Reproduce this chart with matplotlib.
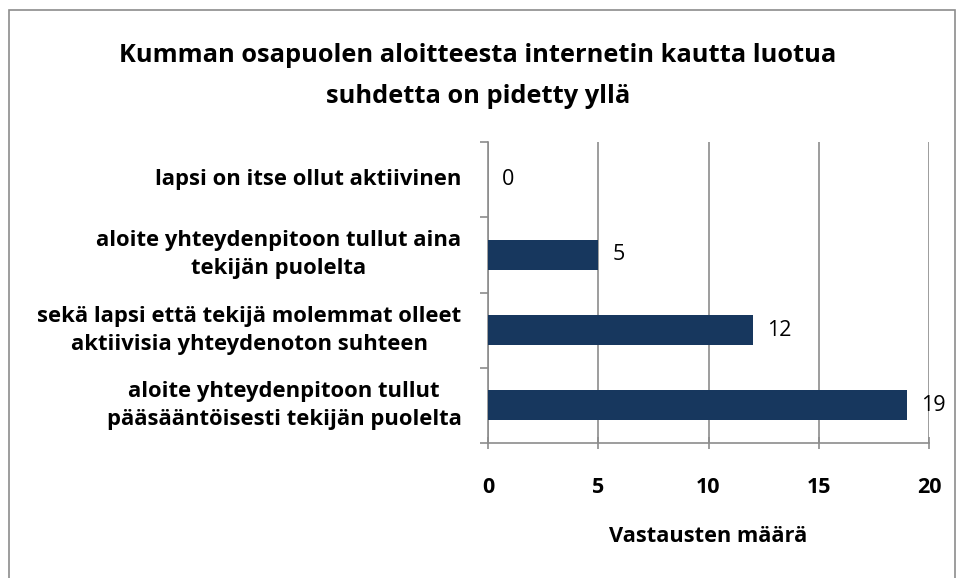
import matplotlib
matplotlib.use("Agg")
import matplotlib.pyplot as plt
from matplotlib.patches import Rectangle

categories = [
    "aloite yhteydenpitoon tullut\npääsääntöisesti tekijän puolelta",
    "sekä lapsi että tekijä molemmat olleet\naktiivisia yhteydenoton suhteen",
    "aloite yhteydenpitoon tullut aina\ntekijän puolelta",
    "lapsi on itse ollut aktiivinen",
]
values = [19, 12, 5, 0]
xticks = [0, 5, 10, 15, 20]
title = "Kumman osapuolen aloitteesta internetin kautta luotua\nsuhdetta on pidetty yllä"
xlabel = "Vastausten määrä"

plt.rcParams['font.family'] = ['Open Sans', 'DejaVu Sans']

fig = plt.figure(figsize=(9.58, 5.78), dpi=100)
W, H = 958, 578
ax = fig.add_axes([488 / W, 1 - 443 / H, (929 - 488) / W, (443 - 142) / H])

fig.patches.append(Rectangle((9 / W, -0.01), (955 - 9) / W, (1 - 10 / H) + 0.01,
                             transform=fig.transFigure, fill=False,
                             edgecolor='#8c8c8c', linewidth=1.2))

ypos = list(range(len(categories)))
ax.barh(ypos, values, height=0.4, color='#17375E', zorder=3)
ax.set_ylim(-0.5, len(categories) - 0.5)
ax.set_xlim(0, 20)
ax.set_xticks(xticks)
ax.set_xticklabels([str(t) for t in xticks], fontsize=15.5, fontweight='bold')
ax.set_yticks([y - 0.5 for y in ypos] + [len(categories) - 0.5])
ax.set_yticklabels([])
ax.tick_params(axis='y', length=6, color='#8c8c8c', width=1.2)
ax.tick_params(axis='x', length=9, color='#8c8c8c', width=1.2, pad=20, direction='inout')
for y, lab in zip(ypos, categories):
    ax.text(-1.2, y, lab, ha='right', va='center', multialignment='center',
            fontsize=15.8, fontweight='bold', linespacing=1.45, transform=ax.transData)
for y, v in zip(ypos, values):
    ax.text(v + 0.65, y, str(v), ha='left', va='center', fontsize=15.5)

ax.grid(axis='x', color='#8c8c8c', linewidth=1.2, zorder=0)
for s in ['top', 'right']:
    ax.spines[s].set_visible(False)
for s in ['left', 'bottom']:
    ax.spines[s].set_color('#8c8c8c')
    ax.spines[s].set_linewidth(1.2)

ax.set_xlabel(xlabel, fontsize=15.7, fontweight='bold', labelpad=20)
fig.text(478 / W, 1 - 76 / H, title, ha='center', va='center',
         fontsize=18.3, fontweight='bold', linespacing=1.8)

fig.savefig("out.png", dpi=100)
